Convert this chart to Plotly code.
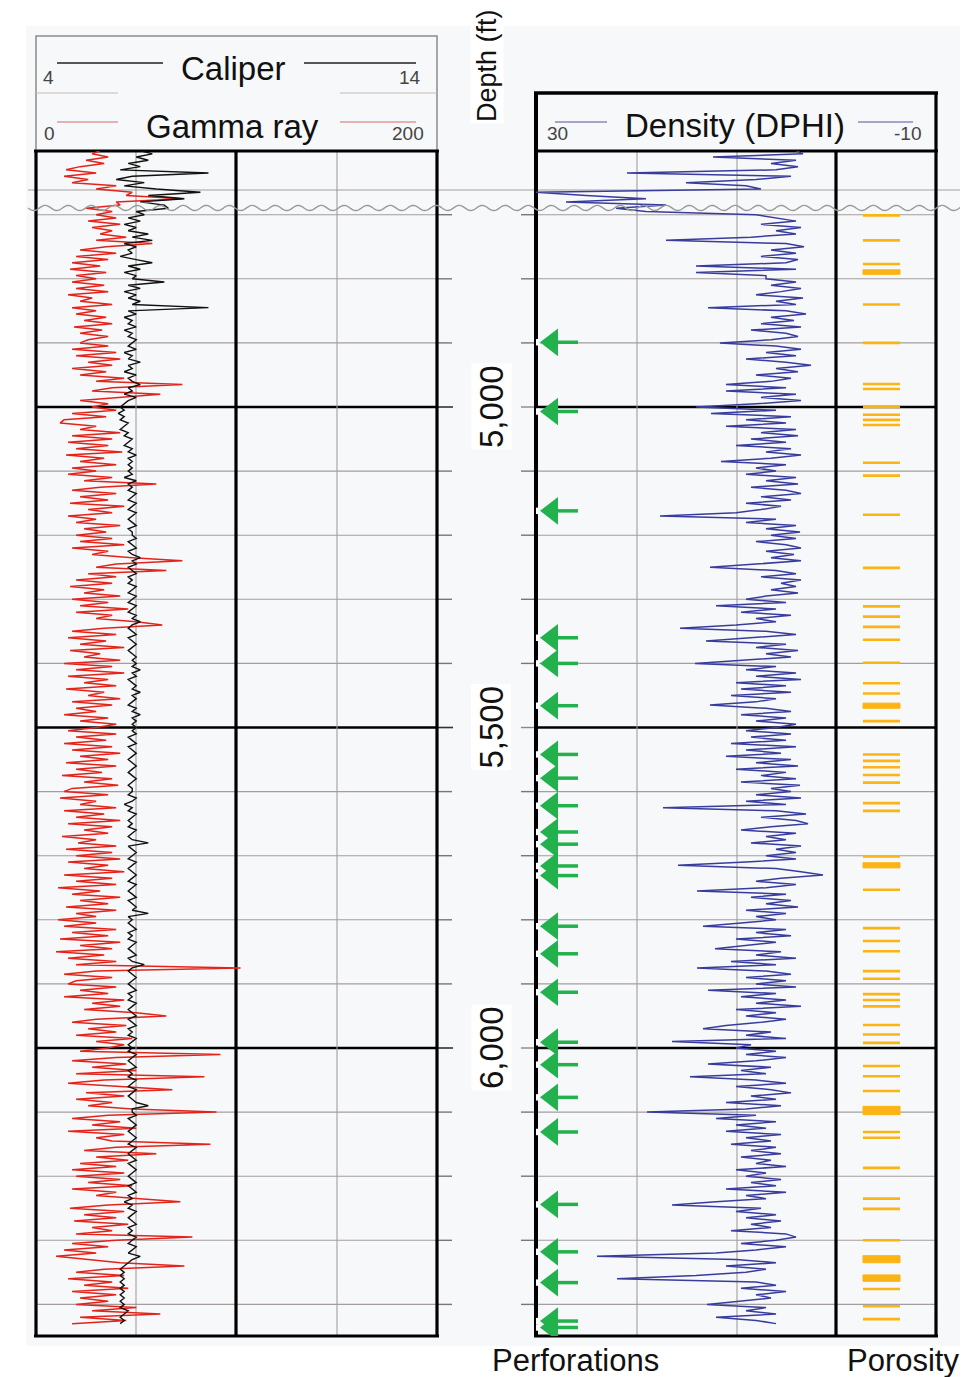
import math
import plotly.graph_objects as go

# The page body has an 8 px margin, so the figure is drawn 8 px smaller and
# every reference pixel position is shifted by that margin.
OFF = 8
W, H = 968 - OFF, 1377 - OFF
def px(x): return (x - OFF) / W
def py(y): return 1 - (y - OFF) / H

# ---------------- data ----------------
depth_ft = list(range(4600, 6435, 5))  # sampling depths, 5 ft

gamma_ray = [
    32, 28, 36, 25, 34, 22, 15, 30, 14, 26, 18, 40, 30, 48, 45, 73, 40, 42, 25, 38,
    30, 40, 26, 42, 28, 38, 32, 45, 30, 58, 35, 22, 40, 20, 36, 18, 32, 17, 35, 20,
    30, 18, 34, 20, 36, 16, 28, 22, 38, 18, 30, 20, 35, 24, 38, 19, 33, 22, 36, 26,
    22, 36, 18, 40, 20, 42, 26, 38, 18, 35, 22, 44, 30, 73, 38, 28, 62, 40, 22, 36,
    28, 40, 18, 35, 14, 12, 30, 22, 42, 18, 38, 16, 36, 20, 43, 15, 34, 22, 40, 18,
    30, 16, 38, 24, 60, 32, 18, 40, 22, 36, 17, 44, 26, 38, 16, 30, 20, 42, 24, 35,
    20, 38, 22, 44, 18, 36, 28, 48, 73, 40, 30, 65, 26, 40, 20, 38, 17, 34, 24, 42,
    18, 36, 22, 46, 20, 38, 30, 50, 63, 34, 18, 40, 16, 35, 22, 44, 17, 32, 24, 42,
    14, 38, 20, 44, 16, 36, 24, 40, 15, 34, 26, 42, 18, 38, 20, 30, 14, 36, 22, 40,
    30, 16, 40, 20, 35, 14, 38, 18, 42, 22, 36, 15, 40, 20, 33, 13, 38, 24, 41, 18,
    14, 36, 12, 30, 22, 40, 14, 34, 20, 42, 16, 38, 24, 36, 13, 30, 21, 40, 15, 38,
    20, 42, 16, 36, 24, 44, 14, 38, 20, 40, 11, 32, 18, 42, 22, 36, 15, 40, 20, 30,
    11, 30, 14, 40, 18, 36, 12, 42, 22, 38, 10, 34, 16, 40, 20, 102, 30, 14, 38, 20,
    16, 40, 22, 36, 14, 44, 28, 42, 24, 50, 65, 30, 18, 45, 26, 40, 20, 48, 30, 44,
    36, 22, 92, 40, 18, 45, 28, 50, 20, 84, 34, 16, 42, 68, 25, 44, 20, 38, 26, 48,
    90, 36, 18, 42, 28, 50, 16, 44, 30, 38, 87, 40, 24, 60, 30, 46, 22, 40, 18, 44,
    20, 42, 26, 48, 18, 40, 30, 50, 72, 36, 17, 44, 24, 40, 19, 46, 28, 38, 20, 78,
    40, 18, 36, 14, 30, 10, 26, 42, 74, 34, 20, 44, 16, 38, 24, 46, 18, 40, 22, 36,
    20, 50, 28, 62, 22, 45, 18,
]

caliper = [
    6.6, 6.9, 6.5, 6.8, 6.3, 6.6, 6.1, 8.3, 6.4, 6.0, 6.7, 6.2, 7.0, 8.1, 6.8, 7.7, 6.6, 7.2, 7.3, 6.5,
    6.7, 6.3, 6.6, 6.2, 6.5, 6.3, 6.8, 6.4, 6.9, 6.2, 6.5, 6.3, 6.4, 6.1, 6.5, 6.9, 6.3, 6.6, 6.2, 6.5,
    6.4, 7.2, 6.3, 6.6, 6.2, 6.5, 6.3, 6.6, 6.4, 8.3, 6.3, 6.5, 6.2, 6.4, 6.3, 6.5, 6.2, 6.4, 6.3, 6.5,
    6.4, 6.3, 6.5, 6.2, 6.4, 6.3, 6.6, 6.3, 6.4, 6.2, 6.5, 6.3, 6.4, 6.6, 6.3, 6.4, 6.2, 6.5, 6.3, 6.2,
    6.1, 6.2, 6.05, 6.2, 6.1, 6.3, 6.2, 6.1, 6.3, 6.2, 6.4, 6.3, 6.2, 6.4, 6.3, 6.5, 6.3, 6.4, 6.3, 6.4,
    6.3, 6.4, 6.2, 6.5, 6.3, 6.4, 6.3, 6.5, 6.4, 6.3, 6.5, 6.4, 6.3, 6.5, 6.4, 6.3, 6.4, 6.5, 6.3, 6.4,
    6.4, 6.5, 6.3, 6.4, 6.5, 6.3, 6.4, 6.6, 6.4, 6.5, 6.3, 6.4, 6.5, 6.3, 6.4, 6.3, 6.5, 6.4, 6.3, 6.5,
    6.4, 6.3, 6.5, 6.4, 6.3, 6.5, 6.4, 6.6, 6.4, 6.3, 6.4, 6.5, 6.3, 6.4, 6.5, 6.4, 6.3, 6.4, 6.5, 6.4,
    6.5, 6.4, 6.6, 6.4, 6.5, 6.3, 6.4, 6.5, 6.4, 6.6, 6.4, 6.5, 6.4, 6.3, 6.5, 6.4, 6.6, 6.4, 6.5, 6.4,
    6.5, 6.4, 6.5, 6.3, 6.4, 6.5, 6.3, 6.4, 6.5, 6.4, 6.3, 6.4, 6.5, 6.4, 6.3, 6.4, 6.5, 6.4, 6.3, 6.4,
    6.4, 6.3, 6.5, 6.4, 6.2, 6.4, 6.3, 6.5, 6.4, 6.3, 6.4, 6.3, 6.5, 6.4, 6.3, 6.4, 6.8, 6.3, 6.4, 6.5,
    6.4, 6.3, 6.5, 6.4, 6.3, 6.4, 6.5, 6.4, 6.3, 6.5, 6.4, 6.3, 6.4, 6.5, 6.3, 6.4, 6.5, 6.4, 6.8, 6.3,
    6.4, 6.3, 6.4, 6.5, 6.3, 6.4, 6.3, 6.5, 6.4, 6.3, 6.4, 6.5, 6.3, 6.4, 6.7, 6.4, 6.3, 6.4, 6.5, 6.4,
    6.3, 6.4, 6.5, 6.3, 6.4, 6.3, 6.5, 6.4, 6.3, 6.4, 6.5, 6.3, 6.4, 6.5, 6.3, 6.4, 6.3, 6.5, 6.4, 6.3,
    6.4, 6.3, 6.5, 6.4, 6.3, 6.4, 6.5, 6.3, 6.4, 6.3, 6.5, 6.4, 6.3, 6.5, 6.4, 6.3, 6.4, 6.5, 6.8, 6.4,
    6.4, 6.5, 6.3, 6.4, 6.5, 6.4, 6.3, 6.4, 6.5, 6.4, 6.3, 6.5, 6.4, 6.3, 6.4, 6.5, 6.3, 6.4, 6.5, 6.4,
    6.3, 6.4, 6.5, 6.3, 6.4, 6.5, 6.3, 6.4, 6.2, 6.4, 6.3, 6.5, 6.4, 6.3, 6.4, 6.5, 6.3, 6.4, 6.3, 6.5,
    6.4, 6.3, 6.5, 6.4, 6.3, 6.6, 6.4, 6.3, 6.2, 6.1, 6.2, 6.1, 6.2, 6.1, 6.2, 6.1, 6.2, 6.1, 6.2, 6.1,
    6.2, 6.1, 6.3, 6.2, 6.1, 6.2, 6.1,
]

dphi = [
    4.0, 3.3, 12.3, 4.0, 6.5, 3.8, 6.0, 20.9, 4.5, 8.0, 15.0, 9.0, 7.5, 30.0, 25.0, 19.0, 27.0, 17.0, 22.0, 19.0,
    8.0, 6.0, 4.0, 7.5, 3.5, 6.0, 4.0, 8.5, 17.0, 5.0, 3.2, 6.5, 4.0, 7.5, 3.8, 5.0, 14.0, 4.0, 14.0, 7.0,
    7.0, 4.0, 6.5, 3.5, 5.5, 8.0, 3.3, 6.0, 4.0, 12.8, 5.0, 3.0, 6.5, 4.2, 7.5, 3.5, 8.5, 5.0, 3.8, 6.5,
    11.6, 6.0, 3.5, 7.0, 4.0, 9.0, 5.0, 2.5, 6.0, 3.8, 8.0, 4.5, 6.5, 11.0, 5.0, 11.0, 4.0, 7.5, 3.5, 8.0,
    14.0, 6.0, 12.5, 4.5, 9.0, 5.0, 11.0, 4.0, 7.5, 3.8, 8.5, 5.0, 10.0, 4.5, 7.0, 3.5, 6.5, 11.5, 5.0, 8.0,
    6.0, 9.0, 4.0, 7.0, 3.8, 8.5, 5.0, 3.5, 7.5, 4.5, 9.0, 5.5, 7.5, 10.0, 17.6, 6.0, 9.0, 4.0, 7.0, 3.6,
    6.5, 4.0, 8.0, 5.0, 3.5, 7.0, 4.2, 6.5, 3.5, 8.0, 12.6, 6.0, 4.0, 7.5, 3.5, 5.5, 4.0, 6.5, 3.8, 7.0,
    9.0, 5.0, 12.0, 6.0, 9.5, 4.5, 8.0, 6.0, 10.0, 15.6, 7.0, 4.0, 8.5, 13.0, 5.0, 8.0, 3.8, 7.0, 4.5, 9.0,
    14.1, 6.0, 9.0, 4.0, 8.0, 3.5, 10.0, 5.0, 9.5, 4.5, 10.5, 6.0, 8.0, 12.6, 7.0, 4.5, 9.5, 5.0, 8.0, 4.0,
    6.0, 9.0, 4.5, 8.5, 5.0, 10.5, 4.0, 9.0, 5.5, 11.0, 4.5, 8.0, 3.8, 10.0, 5.0, 7.5, 4.0, 9.5, 3.6, 6.5,
    4.5, 8.0, 3.5, 9.0, 5.0, 17.3, 6.0, 3.0, 7.5, 4.0, 2.8, 6.5, 9.5, 4.0, 7.0, 5.0, 8.5, 3.5, 6.0, 4.0,
    7.0, 4.0, 9.0, 15.8, 6.0, 3.5, 1.3, 5.5, 8.0, 4.0, 7.0, 13.9, 5.0, 8.5, 4.5, 7.0, 3.8, 9.0, 5.0, 8.0,
    6.0, 9.5, 13.3, 5.0, 8.0, 4.5, 10.0, 6.0, 9.0, 12.1, 5.5, 8.0, 4.0, 10.5, 6.0, 13.9, 7.0, 4.5, 9.0, 5.0,
    8.0, 4.0, 12.8, 6.0, 9.5, 5.0, 8.0, 3.5, 10.0, 6.0, 9.0, 5.0, 7.5, 11.0, 13.3, 6.5, 9.0, 5.0, 16.4, 8.5,
    10.0, 6.0, 9.0, 5.0, 8.0, 12.8, 6.5, 9.5, 7.0, 14.6, 8.0, 5.0, 10.0, 6.5, 4.5, 8.5, 6.0, 11.0, 5.5, 9.0,
    18.9, 8.0, 12.0, 6.0, 10.0, 7.0, 11.0, 5.5, 9.0, 6.5, 10.5, 6.0, 8.5, 5.5, 9.5, 6.5, 8.0, 5.0, 10.0, 7.0,
    9.0, 5.5, 8.5, 6.0, 11.0, 5.0, 9.0, 7.0, 12.0, 16.4, 7.5, 10.0, 6.0, 9.0, 5.5, 8.5, 6.5, 10.5, 5.0, 4.0,
    6.0, 9.5, 5.0, 8.0, 12.0, 23.9, 10.0, 6.0, 11.0, 7.0, 9.0, 14.0, 21.9, 8.0, 6.0, 9.5, 5.0, 8.0, 6.5, 10.0,
    12.9, 7.0, 9.0, 6.0, 12.0, 8.0, 6.0,
]

perforation_depths = [4899, 5007, 5162, 5360, 5400, 5466, 5542, 5579, 5622, 5663,
                      5682, 5716, 5731, 5810, 5853, 5913, 5991, 6026, 6077, 6131,
                      6244, 6318, 6366, 6426, 6436]

porosity_thin = [4701, 4740, 4777, 4840, 4900, 4964, 4972, 5000, 5012, 5020, 5028,
                 5087, 5107, 5168, 5251, 5311, 5327, 5343, 5363, 5399, 5431, 5447,
                 5490, 5542, 5552, 5562, 5574, 5586, 5618, 5630, 5701, 5753, 5813,
                 5833, 5849, 5880, 5892, 5916, 5925, 5935, 5964, 5979, 5992, 6028,
                 6044, 6067, 6131, 6140, 6187, 6235, 6251, 6300, 6376, 6403, 6423]
porosity_thick = [(4786, 4793), (5462, 5470), (5711, 5719), (6091, 6104),
                  (6324, 6335), (6354, 6364)]

depth_labels = [5000, 5500, 6000]
grid_minor = [4700, 4800, 4900, 5100, 5200, 5300, 5400, 5600, 5700, 5800,
              5900, 6100, 6200, 6300, 6400]
break_grid = 4661.5
break_depth = 4689.5

# ---------------- figure ----------------
FONT = "Liberation Sans, Arial, Helvetica, sans-serif"
RED = "#e3241b"
BLUE = "#383c9c"
GREEN = "#22b14c"
ORANGE = "#fbb414"
GRID = "#a39d9d"

def depth_to_y(d):
    return 407 + (d - 5000) * 0.641

fig = go.Figure()

fig.add_trace(go.Scatter(x=gamma_ray, y=depth_ft, xaxis="x", yaxis="y", mode="lines",
                         line=dict(color=RED, width=1.5), hoverinfo="skip"))
fig.add_trace(go.Scatter(x=caliper, y=depth_ft, xaxis="x2", yaxis="y", mode="lines",
                         line=dict(color="#111111", width=1.4), hoverinfo="skip"))
fig.add_trace(go.Scatter(x=dphi, y=depth_ft, xaxis="x3", yaxis="y", mode="lines",
                         line=dict(color=BLUE, width=1.5), hoverinfo="skip"))

# porosity bars
bx, by = [], []
for d in porosity_thin:
    bx += [863, 900, None]
    by += [d, d, None]
fig.add_trace(go.Scatter(x=bx, y=by, xaxis="x4", yaxis="y", mode="lines",
                         line=dict(color=ORANGE, width=2.6), hoverinfo="skip"))
tx, ty = [], []
for top, bot in porosity_thick:
    tx += [863, 900, 900, 863, 863, None]
    ty += [top, top, bot, bot, top, None]
fig.add_trace(go.Scatter(x=tx, y=ty, xaxis="x4", yaxis="y", mode="lines", fill="toself",
                         fillcolor=ORANGE, line=dict(color=ORANGE, width=1), hoverinfo="skip"))

# perforations: gaps in the track border, stems, arrow heads
gx, gy, sx, sy = [], [], [], []
for d in perforation_depths:
    gx += [536, 536, None]
    gy += [d - 5, d + 5, None]
    sx += [558, 578, None]
    sy += [d, d, None]
fig.add_trace(go.Scatter(x=gx, y=gy, xaxis="x5", yaxis="y", mode="lines",
                         line=dict(color="#ffffff", width=7), hoverinfo="skip"))
fig.add_trace(go.Scatter(x=sx, y=sy, xaxis="x5", yaxis="y", mode="lines",
                         line=dict(color=GREEN, width=3.5), hoverinfo="skip"))
fig.add_trace(go.Scatter(x=[552] * len(perforation_depths), y=perforation_depths,
                         xaxis="x5", yaxis="y", mode="markers",
                         marker=dict(symbol="triangle-left", size=24, color=GREEN,
                                     line=dict(width=0)), hoverinfo="skip"))

shapes = []
def pline(x0, y0, x1, y1, color="black", width=1, layer="below"):
    shapes.append(dict(type="line", xref="paper", yref="paper", x0=px(x0), y0=py(y0),
                       x1=px(x1), y1=py(y1), line=dict(color=color, width=width), layer=layer))

def dline(x0, x1, d, color, width, layer="below"):
    shapes.append(dict(type="line", xref="paper", yref="y", x0=px(x0), x1=px(x1),
                       y0=d, y1=d, line=dict(color=color, width=width), layer=layer))

# light background
shapes.append(dict(type="rect", xref="paper", yref="paper", x0=px(26), x1=px(960),
                   y0=py(1346), y1=py(26), fillcolor="#f7f8f9", line=dict(width=0),
                   layer="below"))
# left header box
shapes.append(dict(type="rect", xref="paper", yref="paper", x0=px(36), x1=px(437),
                   y0=py(151), y1=py(36), line=dict(color="#8a8a8a", width=1.5),
                   layer="below"))
pline(57, 63, 163, 63, "#222222", 1.4)
pline(304, 63, 416, 63, "#222222", 1.4)
pline(36, 93, 118, 93, "#c9b9b9", 1.2)
pline(340, 93, 437, 93, "#c9b9b9", 1.2)
pline(57, 122, 118, 122, "#d46a6a", 1.2)
pline(340, 122, 416, 122, "#d46a6a", 1.2)
# right header
pline(534, 93, 938, 93, "black", 3.5)
pline(555, 122, 607, 122, "#8a8ab8", 1.4)
pline(858, 122, 913, 122, "#8a8ab8", 1.4)

# horizontal grid lines
for d in grid_minor:
    dline(36, 437, d, GRID, 1.1)
    dline(536, 936, d, GRID, 1.1)
    dline(437, 452, d, "#777777", 1.4)
    dline(521, 536, d, "#777777", 1.4)
for d in depth_labels:
    dline(36, 437, d, "black", 2.6)
    dline(536, 936, d, "black", 2.6)
    dline(437, 453, d, "#333333", 1.6)
    dline(521, 536, d, "#888888", 1.4)
dline(28, 960, break_grid, GRID, 1.1)

# vertical lines
for x in (136, 337, 637, 737):
    pline(x, 151, x, 1336, GRID, 1.1)
for x in (36, 236, 437):
    pline(x, 150, x, 1337, "black", 3.2)
pline(536, 92, 536, 1337, "black", 4)
pline(836, 150, 836, 1337, "black", 3.2)
pline(936, 92, 936, 1337, "black", 3.2)
# track top / bottom borders
for (a, b) in ((34, 439), (534, 938)):
    pline(a, 151, b, 151, "black", 3.2)
    pline(a, 1336, b, 1336, "black", 3.2)

# wavy depth-break line
yb = depth_to_y(break_depth)
pts = []
x = 28.0
while x <= 962:
    yy = yb + 2.6 * math.sin(2 * math.pi * (x - 28) / 23.0)
    pts.append(f"{px(x):.5f},{py(yy):.5f}")
    x += 1.5
shapes.append(dict(type="path", xref="paper", yref="paper", path="M" + " L".join(pts),
                   line=dict(color="#9a9a9a", width=1.4), layer="above"))

annotations = []
def text(t, x, y, size, color="#111111", angle=0, bg=None):
    a = dict(text=t, x=px(x), y=py(y), xref="paper", yref="paper", showarrow=False,
             font=dict(family=FONT, size=size, color=color), textangle=angle,
             xanchor="center", yanchor="middle")
    if bg:
        a["bgcolor"] = bg
    annotations.append(a)

text("Caliper", 233, 68, 33)
text("4", 48, 77, 19, "#444444")
text("14", 410, 77, 19, "#444444")
text("Gamma ray", 232, 127, 33)
text("0", 49, 133, 19, "#444444")
text("200", 408, 133, 19, "#444444")
text("Density (DPHI)", 735, 125, 33)
text("30", 557, 133, 19, "#444444")
text("-10", 907, 133, 19, "#444444")
text("Depth (ft)", 487, 66, 27, angle=-90, bg="#ffffff")
for d in depth_labels:
    text(f"{d:,}", 491, depth_to_y(d), 33, angle=-90, bg="#ffffff")
text("Perforations", 575, 1360, 31)
text("Porosity", 903, 1360, 31)

hidden = dict(visible=False, fixedrange=True, showgrid=False, zeroline=False)
fig.update_layout(
    width=W, height=H,
    margin=dict(l=0, r=0, t=0, b=0),
    paper_bgcolor="#ffffff",
    plot_bgcolor="rgba(0,0,0,0)",
    showlegend=False,
    xaxis=dict(domain=[px(36), px(437)], range=[0, 200], anchor="y", **hidden),
    xaxis2=dict(overlaying="x", range=[4, 14], anchor="y", **hidden),
    xaxis3=dict(domain=[px(536), px(936)], range=[30, -10], anchor="y", **hidden),
    xaxis4=dict(domain=[px(836), px(936)], range=[836, 936], anchor="y", **hidden),
    xaxis5=dict(domain=[px(536), px(636)], range=[536, 636], anchor="y", **hidden),
    yaxis=dict(domain=[py(1336), py(151)], range=[6449.3, 4600.6], anchor="x", **hidden),
    shapes=shapes,
    annotations=annotations,
)

fig.write_html("out.html")
